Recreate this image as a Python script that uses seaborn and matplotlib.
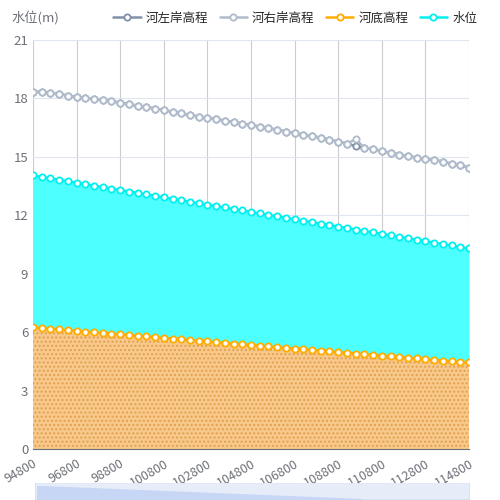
import matplotlib
matplotlib.use("Agg")
import matplotlib.pyplot as plt
import seaborn as sns
import pandas as pd
from matplotlib.patches import FancyBboxPatch

sns.set_style("white")
plt.rcParams['font.family'] = ['Noto Sans CJK SC', 'DejaVu Sans']

stations = list(range(94800, 114801, 400))
right_bank = [18.35,18.33,18.28,18.22,18.15,18.08,18.02,17.98,17.93,17.86,17.78,17.70,17.62,17.55,17.48,17.40,17.31,17.23,17.15,17.07,17.00,16.93,16.86,16.79,16.71,16.63,16.55,16.47,16.39,16.30,16.22,16.14,16.06,15.98,15.88,15.78,15.68,15.90,15.48,15.40,15.30,15.20,15.12,15.05,14.95,14.88,14.85,14.75,14.65,14.58,14.45]
left_bank = right_bank[:37] + [15.55] + right_bank[38:]
water = [14.05,13.97,13.90,13.82,13.75,13.67,13.60,13.52,13.45,13.37,13.30,13.22,13.15,13.07,13.00,12.92,12.85,12.77,12.70,12.62,12.55,12.47,12.40,12.32,12.25,12.17,12.10,12.02,11.95,11.87,11.80,11.72,11.65,11.57,11.50,11.42,11.35,11.27,11.20,11.12,11.05,10.97,10.90,10.82,10.75,10.67,10.60,10.52,10.45,10.37,10.30]
bed = [6.25,6.21,6.18,6.14,6.10,6.07,6.03,5.99,5.96,5.92,5.89,5.85,5.81,5.78,5.74,5.70,5.67,5.63,5.59,5.56,5.52,5.48,5.45,5.41,5.38,5.34,5.30,5.27,5.23,5.19,5.16,5.12,5.08,5.05,5.01,4.97,4.94,4.90,4.87,4.83,4.79,4.76,4.72,4.68,4.65,4.61,4.57,4.54,4.50,4.47,4.45]
xticks = list(range(94800, 114801, 2000))

df = pd.DataFrame({"x": stations, "河左岸高程": left_bank, "河右岸高程": right_bank,
                   "河底高程": bed, "水位": water})

fig = plt.figure(figsize=(5, 5), dpi=100)
ax = fig.add_axes([0.066, 0.102, 0.872, 0.818])

ax.fill_between(df.x, 0, df["河底高程"], color="#f8c98a", hatch="....", edgecolor="#e0a050", linewidth=0, zorder=1)
ax.fill_between(df.x, df["河底高程"], df["水位"], color="#4dffff", linewidth=0, zorder=1)

colors = {"河左岸高程": "#8190a8", "河右岸高程": "#b0bccb", "河底高程": "#ffad00", "水位": "#00f0f0"}
for name in ["河左岸高程", "河右岸高程", "河底高程", "水位"]:
    sns.lineplot(data=df, x="x", y=name, ax=ax, color=colors[name], marker="o", markersize=4.5,
                 markerfacecolor="white", markeredgecolor=colors[name], markeredgewidth=1.3,
                 linewidth=1.8, label=name, zorder=3)

ax.set_xlim(94800, 114800)
ax.set_ylim(0, 21)
ax.set_yticks([0, 3, 6, 9, 12, 15, 18, 21])
ax.set_xticks(xticks)
ax.set_xticklabels([str(t) for t in xticks], rotation=30, ha="right", rotation_mode="anchor", color="#6e7079", fontsize=9)
ax.tick_params(axis="y", colors="#6e7079", labelsize=9.5, length=0)
ax.tick_params(axis="x", length=4, color="#6e7079", pad=2)
ax.set_xlabel(""); ax.set_ylabel("")
for x in xticks:
    ax.axvline(x, color="#cccccc", lw=0.8, zorder=0.5)
for y in [3, 6, 9, 12, 15, 18, 21]:
    ax.axhline(y, color="#e0e6f1", lw=0.8, zorder=0.5)
for s in ["top", "right", "left"]:
    ax.spines[s].set_visible(False)
ax.spines["bottom"].set_color("#6e7079")
ax.text(-0.05, 1.045, "水位(m)", transform=ax.transAxes, color="#6e7079", fontsize=9.5)

ax.legend(loc="lower right", bbox_to_anchor=(1.03, 1.025), ncol=4, frameon=False, fontsize=9,
          handlelength=2.2, columnspacing=0.9, handletextpad=0.4, borderaxespad=0)

zax = fig.add_axes([0.07, 0.0, 0.87, 0.035])
zax.set_xlim(0, 1); zax.set_ylim(0, 1); zax.axis("off")
zax.add_patch(FancyBboxPatch((0, 0), 1, 1.0, boxstyle="round,pad=0,rounding_size=0.01",
                             facecolor="#e6ecf8", edgecolor="#d2dbee"))
zax.fill_between([0.005, 0.75], [0.8, 0.05], 0, color="#c8d6f6")

fig.savefig("out.png", dpi=100)
